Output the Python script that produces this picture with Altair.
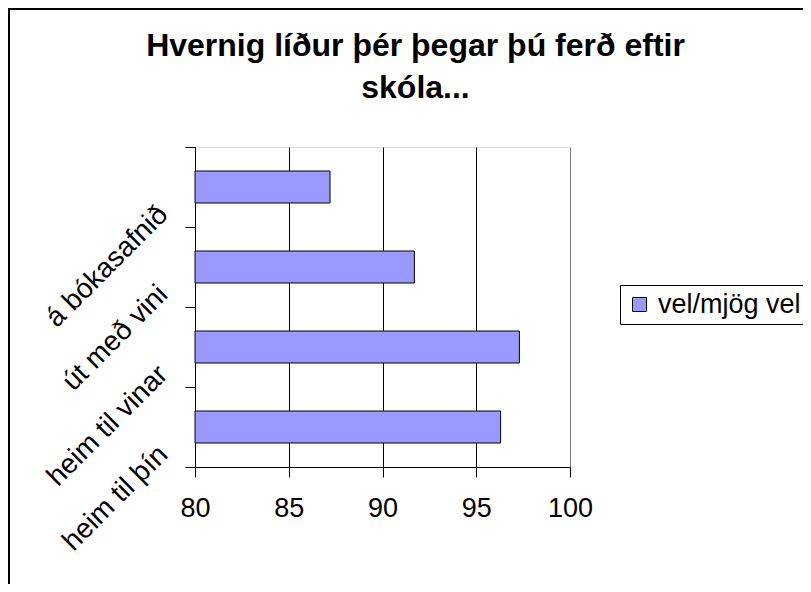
import altair as alt
import pandas as pd

categories = ["á bókasafnið", "út með vini", "heim til vinar", "heim til þín"]
values = [87.2, 91.7, 97.3, 96.3]
series_name = "vel/mjög vel"
x_ticks = [80, 85, 90, 95, 100]
title_lines = ["Hvernig líður þér þegar þú ferð eftir", "skóla..."]

df = pd.DataFrame({
    "category": categories,
    "value": values,
    "base": [x_ticks[0]] * len(categories),
    "series": [series_name] * len(categories),
})

FONT = "Liberation Sans"

bars = alt.Chart(df).mark_bar(
    height={"band": 0.4}, stroke="black", strokeWidth=1
).encode(
    y=alt.Y(
        "category:N",
        sort=categories,
        scale=alt.Scale(paddingInner=0, paddingOuter=0),
        axis=alt.Axis(
            title=None,
            tickBand="extent",
            labelAngle=-45,
            labelAlign="right",
            labelBaseline="middle",
            labelOffset=23,
            labelPadding=22,
            tickSize=10,
            labelFontSize=28,
            labelFont=FONT,
            labelColor="black",
            domainColor="black",
            tickColor="black",
            grid=False,
        ),
    ),
    x=alt.X(
        "value:Q",
        scale=alt.Scale(domain=[80, 100], zero=False, nice=False),
        axis=alt.Axis(
            values=x_ticks,
            title=None,
            grid=True,
            gridColor={"condition": {"test": "datum.value === 100", "value": "#808080"}, "value": "black"},
            gridWidth=1,
            tickSize=10,
            tickColor="black",
            domainColor="black",
            labelFontSize=27,
            labelFont=FONT,
            labelColor="black",
            labelPadding=18,
            labelFlush=False,
        ),
    ),
    x2="base:Q",
    color=alt.Color(
        "series:N",
        scale=alt.Scale(domain=[series_name], range=["#9999FF"]),
        legend=alt.Legend(
            title=None,
            orient="none",
            legendX=425,
            legendY=138,
            symbolType="square",
            symbolSize=196,
            symbolStrokeColor="black",
            symbolStrokeWidth=1,
            labelFontSize=27,
            labelFont=FONT,
            labelColor="black",
            labelOffset=5,
            strokeColor="black",
            fillColor="white",
            padding=6,
        ),
    ),
)

frame = alt.Chart(alt.Data(values=[{}])).mark_rect(
    fill=None, stroke="black", strokeWidth=2
).encode(
    x=alt.value(-186), x2=alt.value(640), y=alt.value(-138), y2=alt.value(480)
)

chart = alt.layer(bars, frame).properties(
    width=375,
    height=320,
    title=alt.TitleParams(
        text=title_lines,
        fontSize=32,
        font=FONT,
        fontWeight="bold",
        color="black",
        anchor="middle",
        frame="group",
        baseline="bottom",
        dx=33,
        dy=129,
        lineHeight=42,
        offset=0,
    ),
    autosize=alt.AutoSizeParams(type="none"),
    padding={"left": 187, "top": 139, "right": 233, "bottom": 117},
).configure_view(
    fill="#C0C0C0", stroke="#808080", strokeWidth=1
).configure(background="white")

chart.save("out.html", embed_options={"renderer": "svg", "actions": False})
